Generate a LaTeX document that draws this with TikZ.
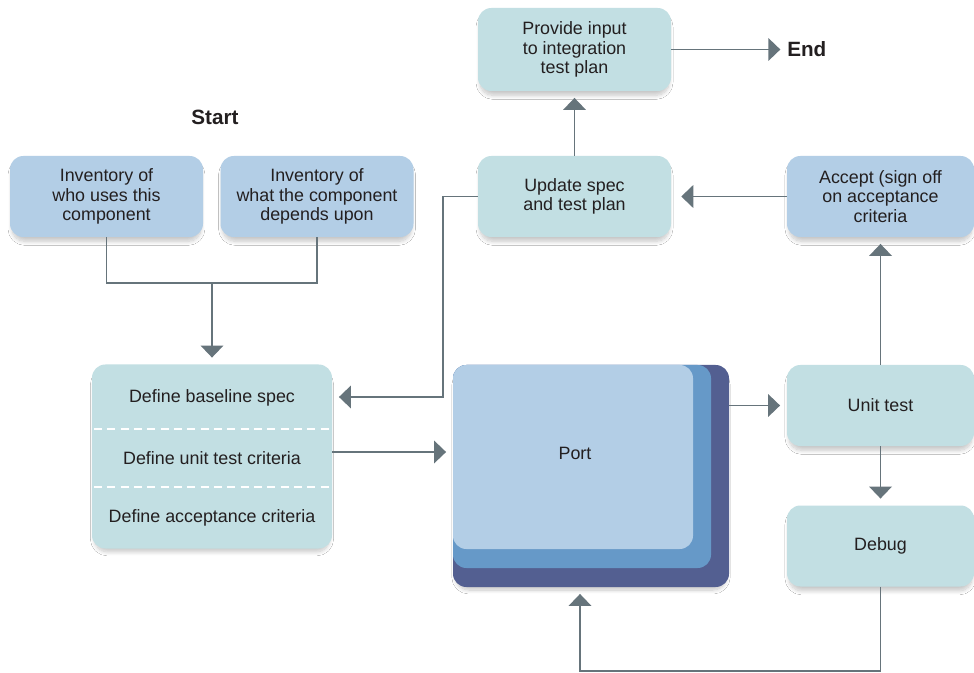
\documentclass[tikz,border=0pt]{standalone}
\usepackage{fontspec}
\setmainfont{Liberation Sans}
\usetikzlibrary{arrows.meta,shadows.blur,calc}
\definecolor{teal}{HTML}{C2DFE3}
\definecolor{bluebox}{HTML}{B3CEE6}
\definecolor{portmid}{HTML}{6699C8}
\definecolor{portback}{HTML}{535F91}
\definecolor{conn}{HTML}{66747B}
\definecolor{txt}{HTML}{231F20}
\tikzset{
  box/.style={rounded corners=10pt, inner sep=0pt, align=center, text=txt,
    font=\fontsize{13.4}{14.6}\selectfont,
    blur shadow={shadow xshift=0pt, shadow yshift=-4pt, shadow scale=0.98, shadow blur radius=3pt, shadow blur steps=10, shadow opacity=22}},
  tealbox/.style={box, fill=teal},
  bluebx/.style={box, fill=bluebox},
  std/.style={minimum width=144.75pt, minimum height=60.75pt},
  right/.style={minimum width=140.25pt, minimum height=60.75pt},
  rowtext/.style={text=txt, font=\fontsize{13.4}{14.6}\selectfont, inner sep=0pt},
  bigtext/.style={text=txt, font=\fontsize{15.5}{18}\selectfont\bfseries, inner sep=0pt},
  link/.style={draw=conn, line width=1.1pt},
  arr/.style={link, -{Triangle[length=9pt,width=17pt]}, shorten >=5pt},
}
\begin{document}
\begin{tikzpicture}[x=0.75pt,y=-0.75pt]
\useasboundingbox[fill=white] (0,0) rectangle (974,673);
% boxes
\node[bluebx, std] (who) at (106.5,196.5) {Inventory of\\who uses this\\component};
\node[bluebx, std] (what) at (317,196.5) {Inventory of\\what the component\\depends upon};
\node[tealbox, std] (upd) at (574.5,196.5) {Update spec\\and test plan};
\node[bluebx, right] (acc) at (880.5,196.5) {Accept (sign off\\on acceptance\\criteria};
\node[tealbox, minimum width=144.75pt, minimum height=62.25pt] (prov) at (574.5,49.5) {Provide input\\to integration\\test plan};
\node[bigtext] (start) at (215,117) {Start};
\node[bigtext, anchor=west] (end) at (787,49.5) {End};
% define box
\node[tealbox, minimum width=180pt, minimum height=138pt] (def) at (212,456.5) {};
\draw[white, line width=1pt, dash pattern=on 6pt off 4pt] (94,429) -- (330,429);
\draw[white, line width=1pt, dash pattern=on 6pt off 4pt] (94,487) -- (330,487);
\node[rowtext] (d1) at (212,398) {Define baseline spec};
\node[rowtext] (d2) at (212,458) {Define unit test criteria};
\node[rowtext] (d3) at (212,518) {Define acceptance criteria};
% port stack
\node[box, fill=portback, minimum width=207pt, minimum height=166.5pt] (portb) at (591,476) {};
\node[rounded corners=10pt, fill=portmid, inner sep=0pt, minimum width=193.5pt, minimum height=152.25pt] (portm) at (582,466.5) {};
\node[rounded corners=10pt, fill=bluebox, inner sep=0pt, minimum width=180pt, minimum height=138pt] (portf) at (573,457) {};
\node[rowtext] (port) at (575,453) {Port};
% right column
\node[tealbox, right] (unit) at (880.5,405.5) {Unit test};
\node[tealbox, right] (dbg) at (880.5,546) {Debug};
% connectors
\coordinate (jn) at (212,283);
\draw[link] (who.south) |- (jn) -| (what.south);
\draw[arr] (jn) -- (def.north);
\draw[arr] (upd.north) -- (prov.south);
\draw[arr] (prov.east) -- (end.west);
\draw[arr, shorten >=7.5pt] (acc.west) -- (upd.east);
\coordinate (c1) at (443,397);
\draw[arr] (upd.west) -| (c1) -- (c1 -| def.east);
\draw[arr] ($(def.east)+(0,-4.5)$) -- ($(def.east -| portb.west)+(0,-4.5)$);
\draw[arr] (unit.west -| portb.east) -- (unit.west);
\draw[arr] (unit.north) -- (acc.south);
\draw[arr] (unit.south) -- (dbg.north);
\coordinate (c2) at (580,671);
\draw[arr] (dbg.south) |- (c2) -- (c2 |- portb.south);
\end{tikzpicture}
\end{document}
